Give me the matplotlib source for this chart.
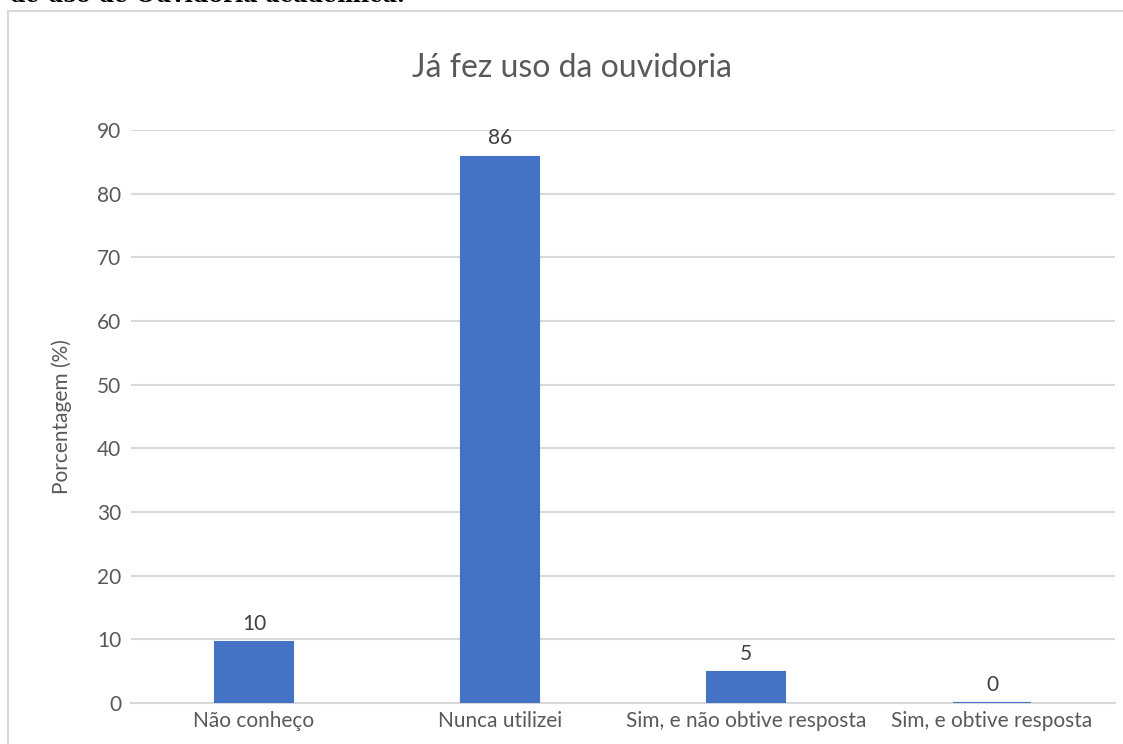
import matplotlib.pyplot as plt
from matplotlib.patches import Rectangle

# data
categories = ['Não conheço', 'Nunca utilizei', 'Sim, e não obtive resposta', 'Sim, e obtive resposta']
values = [9.6, 85.8, 4.9, 0]

plt.rcParams['font.family'] = ['Lato', 'DejaVu Sans']

fig = plt.figure(figsize=(11.23, 7.44), dpi=100)

# outer chart frame
fig.patches.append(Rectangle((8 / 1123, -0.01), 1.1, 1 - 11 / 744 + 0.01, transform=fig.transFigure,
                             fill=False, edgecolor='#d9d9d9', linewidth=1.5))
# caption of the page above, mostly cut off at the top edge
fig.text(10 / 1123, 1 - 2 / 744, 'de uso de Ouvidoria acadêmica.', family='DejaVu Serif', fontsize=16,
         fontweight='bold', ha='left', va='baseline')

ax = fig.add_axes([131 / 1123, 1 - 703 / 744, (1115 - 131) / 1123, (703 - 130) / 744])
x = range(len(categories))
bars = ax.bar(x, values, width=0.317, color='#4472c4', edgecolor='#4472c4', linewidth=1.5, zorder=3)
for b, v in zip(bars, values):
    ax.text(b.get_x() + b.get_width() / 2, v + 1.3, '%.0f' % v, ha='center', va='bottom',
            fontsize=15, color='#404040')

ax.set_xlim(-0.5, 3.5)
ax.set_ylim(0, 90)
ax.set_yticks(range(0, 91, 10))
ax.set_xticks(list(x))
ax.set_xticklabels(categories)
ax.tick_params(length=0, labelsize=15, labelcolor='#595959')
ax.tick_params(axis='y', pad=7)
ax.tick_params(axis='x', pad=6)
ax.grid(axis='y', color='#d9d9d9', linewidth=1.5, zorder=0)
for s in ['top', 'right', 'left']:
    ax.spines[s].set_visible(False)
ax.spines['bottom'].set_color('#d9d9d9')
ax.spines['bottom'].set_linewidth(1.5)

ax.set_ylabel('Porcentagem (%)', fontsize=15, color='#595959', labelpad=18)
fig.text(572 / 1123, 1 - 68 / 744, 'Já fez uso da ouvidoria', ha='center', va='center',
         fontsize=23, color='#595959')

fig.savefig('out.png', dpi=100)
